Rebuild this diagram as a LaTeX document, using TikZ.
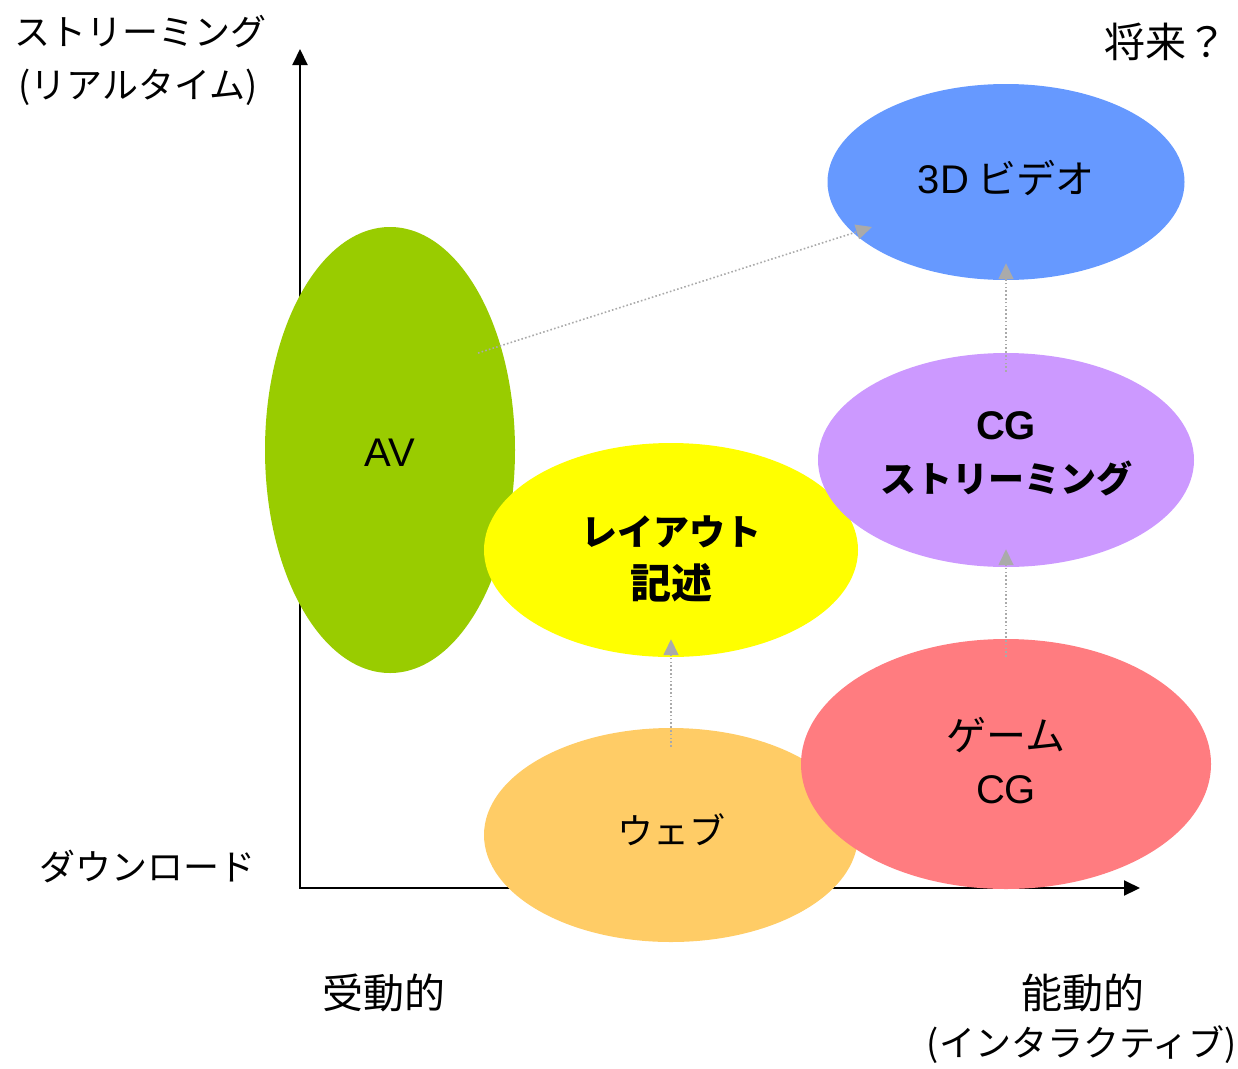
\documentclass[tikz,border=0pt]{standalone}
\usepackage{fontspec}
\setmainfont{Liberation Sans}
\newfontfamily\jp{Noto Sans CJK JP}
\newfontfamily\lat{Liberation Sans}
\usetikzlibrary{shapes.geometric,arrows.meta,calc}
\definecolor{cgreen}{HTML}{99CC00}
\definecolor{cyellow}{HTML}{FFFF00}
\definecolor{corange}{HTML}{FFCC66}
\definecolor{cred}{HTML}{FF7C80}
\definecolor{cpurple}{HTML}{CC99FF}
\definecolor{cblue}{HTML}{6699FF}
\definecolor{dotgray}{HTML}{AAAAAA}
\newcommand{\latn}[1]{{\lat\fontsize{40}{53}\selectfont #1}}
\newcommand{\kanjisz}[1]{{\fontsize{41}{53}\selectfont #1}}
\tikzset{
  blob/.style={ellipse, draw=none, inner sep=0pt},
  txt/.style={inner sep=0pt, align=center, font=\jp\fontsize{36}{53}\selectfont},
  axisline/.style={line width=2pt, black},
  lab/.style={inner sep=0pt, align=center, font=\jp\fontsize{36}{53}\selectfont},
  dotarrow/.style={dotgray, line width=1.6pt, dash pattern=on 1.6pt off 2.2pt,
    -{Triangle[length=16pt,width=15pt]}}
}
\begin{document}
\begin{tikzpicture}[x=1pt,y=-1pt]
\useasboundingbox (0,0) rectangle (1238,1068);
% axes
\coordinate (o) at (300,888);
\coordinate (ytop) at (300,49);
\coordinate (xend) at (1140,888);
\draw[axisline, {Triangle[length=16pt,width=15pt]}-{Triangle[length=16pt,width=15pt]}] (ytop) -- (o) -- (xend);
% ellipses
\node[blob, fill=cgreen, minimum width=250pt, minimum height=446pt] (av) at (390,450) {};
\node[blob, fill=cyellow, minimum width=374pt, minimum height=214pt] (layout) at (671,550) {};
\node[blob, fill=corange, minimum width=374pt, minimum height=214pt] (web) at (671,835) {};
\node[blob, fill=cred, minimum width=410pt, minimum height=250pt] (game) at (1006,764) {};
\node[blob, fill=cpurple, minimum width=376pt, minimum height=214pt] (cgs) at (1006,460) {};
\node[blob, fill=cblue, minimum width=357pt, minimum height=196pt] (v3d) at (1006,182) {};
% texts in ellipses
\node[txt] (avt) at ($(av)+(0,3)$) {\latn{AV}};
\node[txt] (layoutt) at ($(layout)+(0,9)$) {\bfseries レイアウト\\\bfseries\kanjisz{記述}};
\node[txt] (webt) at ($(web)+(0,-5)$) {ウェブ};
\node[txt] (gamet) at ($(game)+(0,-3)$) {{\fontsize{40}{53}\selectfont ゲーム}\\\latn{CG}};
\node[txt] (cgst) at ($(cgs)+(0,-6)$) {\latn{\bfseries CG}\\\bfseries ストリーミング};
\node[txt] (v3dt) at ($(v3d)+(0,-4)$) {\latn{3D} {\fontsize{39}{53}\selectfont ビデオ}};
% dotted arrows
\coordinate (s1) at (478,353);
\coordinate (e1) at (872,227);
\draw[dotarrow] (s1) -- (e1);
\draw[dotarrow] ($(web.north)+(0,19)$) -- ($(layout.south)+(0,-18)$);
\draw[dotarrow] ($(game.north)+(0,18)$) -- ($(cgs.south)+(0,-18)$);
\draw[dotarrow] ($(cgs.north)+(0,19)$) -- ($(v3d.south)+(0,-17)$);
% labels
\node[lab] (l1) at (140,32) {ストリーミング};
\node[lab] (l2) at (138,87) {(リアルタイム)};
\node[lab] (l3) at (1166,42) {\kanjisz{将来？}};
\node[lab] (l4) at (147,866) {ダウンロード};
\node[lab] (l5) at (384,993) {\kanjisz{受動的}};
\node[lab] (l6) at (1083,993) {\kanjisz{能動的}};
\node[lab] (l7) at (1082,1045) {(インタラクティブ)};
\end{tikzpicture}
\end{document}
